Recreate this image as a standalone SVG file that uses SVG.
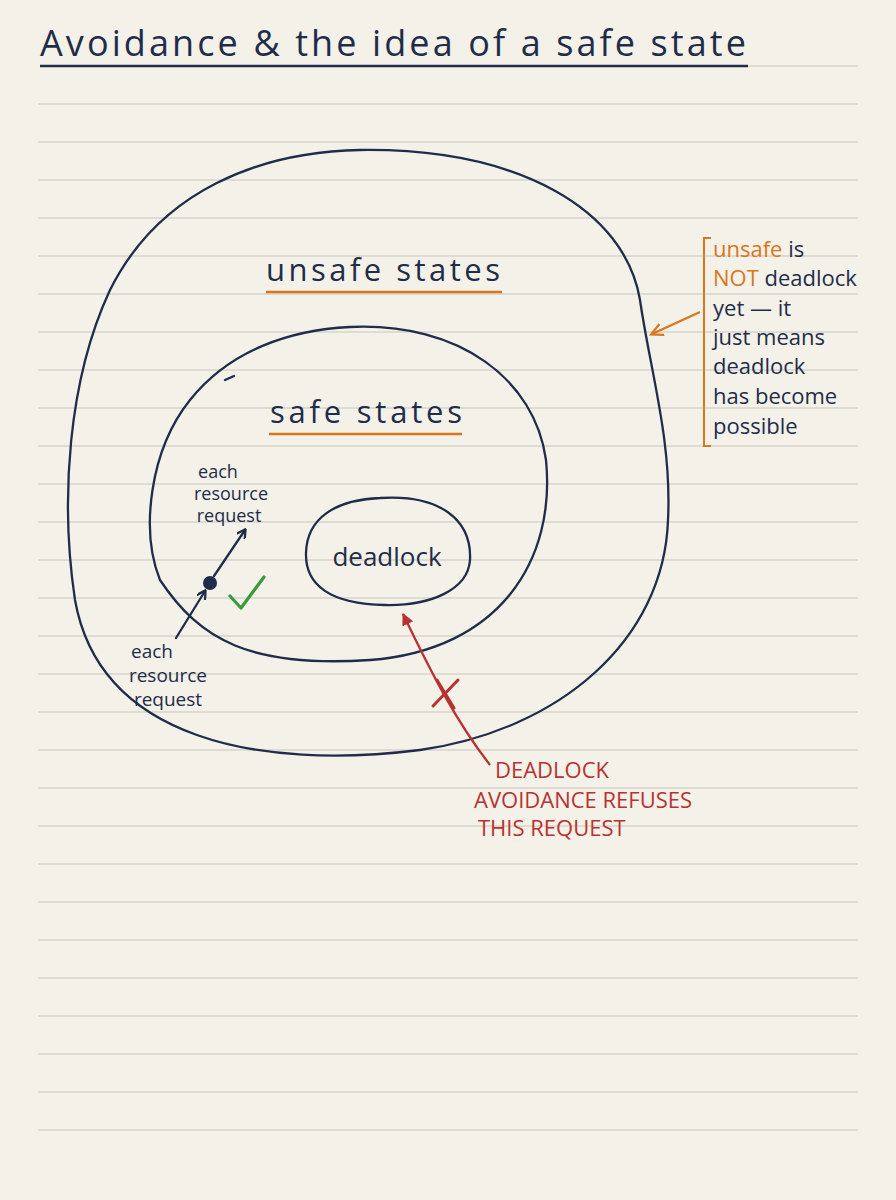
<svg xmlns="http://www.w3.org/2000/svg" width="896" height="1200" viewBox="0 0 896 1200">
<defs>
<style>
.ln{stroke:#d6d3cc;stroke-width:1.3}
.ink{fill:none;stroke:#1f2d4a;stroke-width:2.3;stroke-linecap:round}
.t{font-family:"Open Sans","Liberation Sans",sans-serif;fill:#1f2d4a}
.r{font-family:"Open Sans","Liberation Sans",sans-serif;fill:#b83232;font-size:22px}
.o{fill:#d9761e}
</style>
<marker id="ah" markerWidth="10" markerHeight="10" refX="8" refY="5" orient="auto" markerUnits="userSpaceOnUse"><path d="M0,0 L9,5 L0,10" fill="none" stroke="#1f2d4a" stroke-width="2.3"/></marker>
<marker id="ar" markerWidth="14" markerHeight="14" refX="11" refY="7" orient="auto" markerUnits="userSpaceOnUse"><path d="M0,1 L12,7 L0,13 Z" fill="#b83232"/></marker>
<marker id="ao" markerWidth="14" markerHeight="14" refX="11" refY="7" orient="auto" markerUnits="userSpaceOnUse"><path d="M0,1 L12,7 L0,13" fill="none" stroke="#d9761e" stroke-width="2.2"/></marker>
</defs>
<rect width="896" height="1200" fill="#f4f1e8"/>
<g id="paper">
<line class="ln" x1="38" y1="104" x2="858" y2="104"/><line class="ln" x1="38" y1="142" x2="858" y2="142"/><line class="ln" x1="38" y1="180" x2="858" y2="180"/><line class="ln" x1="38" y1="218" x2="858" y2="218"/><line class="ln" x1="38" y1="256" x2="858" y2="256"/><line class="ln" x1="38" y1="294" x2="858" y2="294"/><line class="ln" x1="38" y1="332" x2="858" y2="332"/><line class="ln" x1="38" y1="370" x2="858" y2="370"/><line class="ln" x1="38" y1="408" x2="858" y2="408"/><line class="ln" x1="38" y1="446" x2="858" y2="446"/><line class="ln" x1="38" y1="484" x2="858" y2="484"/><line class="ln" x1="38" y1="522" x2="858" y2="522"/><line class="ln" x1="38" y1="560" x2="858" y2="560"/><line class="ln" x1="38" y1="598" x2="858" y2="598"/><line class="ln" x1="38" y1="636" x2="858" y2="636"/><line class="ln" x1="38" y1="674" x2="858" y2="674"/><line class="ln" x1="38" y1="712" x2="858" y2="712"/><line class="ln" x1="38" y1="750" x2="858" y2="750"/><line class="ln" x1="38" y1="788" x2="858" y2="788"/><line class="ln" x1="38" y1="826" x2="858" y2="826"/><line class="ln" x1="38" y1="864" x2="858" y2="864"/><line class="ln" x1="38" y1="902" x2="858" y2="902"/><line class="ln" x1="38" y1="940" x2="858" y2="940"/><line class="ln" x1="38" y1="978" x2="858" y2="978"/><line class="ln" x1="38" y1="1016" x2="858" y2="1016"/><line class="ln" x1="38" y1="1054" x2="858" y2="1054"/><line class="ln" x1="38" y1="1092" x2="858" y2="1092"/><line class="ln" x1="38" y1="1130" x2="858" y2="1130"/>
<line class="ln" x1="748" y1="66" x2="858" y2="66"/>
</g>
<g id="title">
<text class="t" x="40" y="56" font-size="36" textLength="706" lengthAdjust="spacing">Avoidance &amp; the idea of a safe state</text>
<line x1="40" y1="66" x2="748" y2="66" stroke="#1f2d4a" stroke-width="2.5"/>
</g>
<g id="unsafe">
<path class="ink" d="M360,150 C520,148 625,210 640,300 C650,370 672,440 668,520 C664,640 560,730 420,750 C260,770 100,740 75,600 C60,500 68,380 110,290 C160,190 260,152 360,150 Z"/>
<text class="t" x="383" y="281" font-size="31" text-anchor="middle" textLength="234" lengthAdjust="spacing">unsafe states</text>
<line x1="266" y1="292" x2="502" y2="292" stroke="#d9761e" stroke-width="2.3"/>
</g>
<g id="safe">
<path class="ink" d="M350,327 C460,322 535,380 546,460 C556,560 500,650 370,660 C250,668 200,640 160,580 C140,530 150,450 190,400 C230,350 290,330 350,327 Z"/>
<path class="ink" d="M225,380 L234,376"/>
<text class="t" x="366" y="423" font-size="31" text-anchor="middle" textLength="192" lengthAdjust="spacing">safe states</text>
<line x1="269" y1="434" x2="462" y2="434" stroke="#d9761e" stroke-width="2.3"/>
</g>
<g id="deadlock">
<path class="ink" d="M380,498 C440,494 472,520 470,560 C468,590 430,606 385,605 C330,604 305,585 306,553 C307,518 335,500 380,498 Z"/>
<text class="t" x="387" y="566" font-size="26" text-anchor="middle">deadlock</text>
</g>
<g id="connectors">
<circle cx="210" cy="583" r="7" fill="#1f2d4a"/>
<line class="ink" x1="214" y1="576" x2="245" y2="530" marker-end="url(#ah)"/>
<line class="ink" x1="176" y1="638" x2="205" y2="591" marker-end="url(#ah)"/>
<path d="M230,596 L241,608 L264,577" fill="none" stroke="#3c9a3c" stroke-width="3.2" stroke-linecap="round" stroke-linejoin="round"/>
<path d="M490,765 C455,720 430,670 403,614" fill="none" stroke="#b83232" stroke-width="2.3" marker-end="url(#ar)"/>
<path d="M433,706 L458,680 M437,680 L454,708" stroke="#b83232" stroke-width="3" stroke-linecap="round"/>
<line x1="700" y1="312" x2="652" y2="334" stroke="#d9761e" stroke-width="2.2" marker-end="url(#ao)"/>
<path d="M711,238 L704,238 L704,446 L711,446" fill="none" stroke="#d9761e" stroke-width="2"/>
</g>
<g id="labels">
<text class="t" font-size="18" text-anchor="middle"><tspan x="218" y="478">each</tspan><tspan x="231" y="500">resource</tspan><tspan x="229" y="522">request</tspan></text>
<text class="t" font-size="19" text-anchor="middle"><tspan x="152" y="658">each</tspan><tspan x="168" y="682">resource</tspan><tspan x="168" y="706">request</tspan></text>
<text class="t" font-size="22"><tspan x="713" y="257"><tspan class="o">unsafe</tspan> is</tspan><tspan x="713" y="286"><tspan class="o">NOT</tspan> deadlock</tspan><tspan x="713" y="316">yet — it</tspan><tspan x="713" y="345">just means</tspan><tspan x="713" y="374">deadlock</tspan><tspan x="713" y="404">has become</tspan><tspan x="713" y="434">possible</tspan></text>
<text class="r"><tspan x="495" y="778">DEADLOCK</tspan><tspan x="474" y="808">AVOIDANCE REFUSES</tspan><tspan x="478" y="836">THIS REQUEST</tspan></text>
</g>
</svg>
